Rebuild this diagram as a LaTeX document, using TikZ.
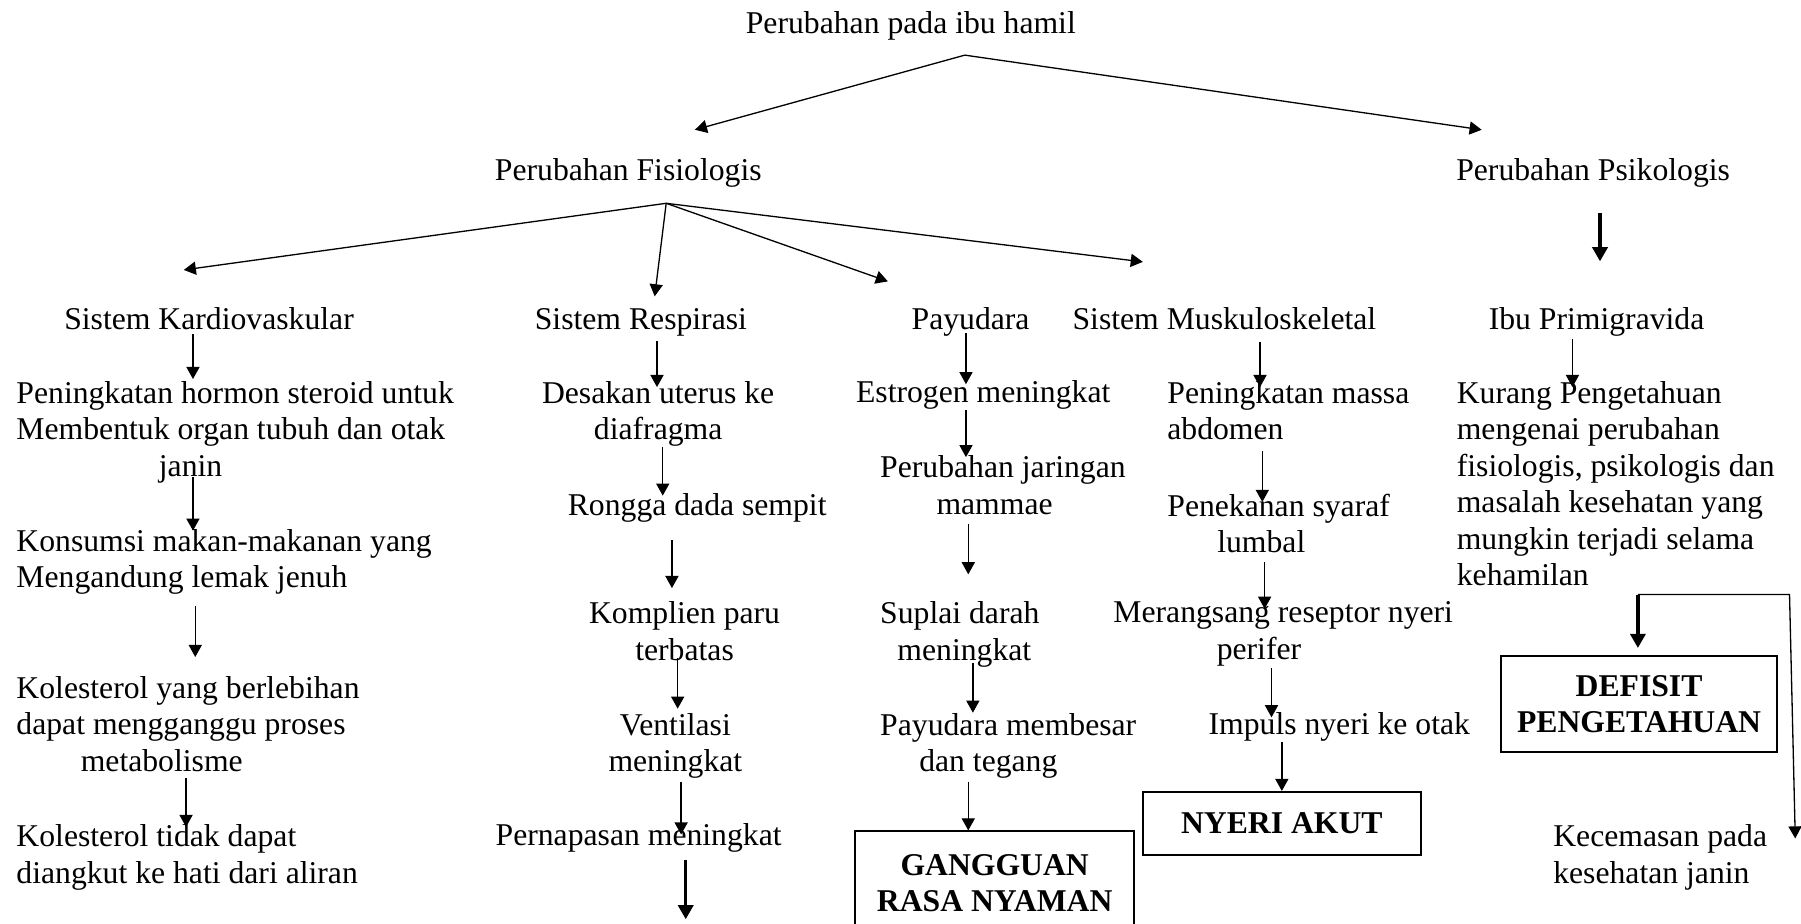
\documentclass[tikz,border=0pt]{standalone}
\usepackage{fontspec}
\setmainfont{Liberation Serif}
\usetikzlibrary{arrows.meta,calc}

\begin{document}
\begin{tikzpicture}[
    x=0.02cm, y=-0.02cm,
    every node/.style={inner sep=0pt, font=\fontsize{15.7pt}{18.1pt}\selectfont},
    lbl/.style={anchor=base},
    arr/.style={-{Triangle[length=6pt,width=6.5pt]}, line width=0.65pt},
    fatarr/.style={-{Triangle[length=7pt,width=7.5pt]}, line width=1.6pt},
    box/.style={draw, line width=1pt, align=center, font=\fontsize{15.7pt}{18.1pt}\selectfont\bfseries},
]
    \useasboundingbox (0,0) rectangle (1568,804);

    \node[lbl] (title) at (793,29.5) {Perubahan pada ibu hamil};
    \node[lbl] (fis) at (547,157.5) {Perubahan Fisiologis};
    \node[lbl] (psi) at (1387,157.5) {Perubahan Psikologis};

    \node[lbl] (kv) at (182,286.5) {Sistem Kardiovaskular};
    \node[lbl] (res) at (558,286.5) {Sistem Respirasi};
    \node[lbl] (pay) at (845,286.5) {Payudara};
    \node[lbl] (mus) at (1066,286.5) {Sistem Muskuloskeletal};
    \node[lbl] (ibu) at (1390,286.5) {Ibu Primigravida};

    % kardiovaskular
    \node[anchor=north west, align=left] (k1) at (14,331.5) {Peningkatan hormon steroid untuk\\Membentuk organ tubuh dan otak\\\hspace*{2.48cm}janin};
    \node[anchor=north west, align=left] (k2) at (14,460.5) {Konsumsi makan-makanan yang\\Mengandung lemak jenuh};
    \node[anchor=north west, align=left] (k3) at (14,588.5) {Kolesterol yang berlebihan\\dapat mengganggu proses\\\hspace*{1.12cm}metabolisme};
    \node[anchor=north west, align=left] (k4) at (14,717.5) {Kolesterol tidak dapat\\diangkut ke hati dari aliran};

    % respirasi
    \node[anchor=north, align=center] (r1) at (573,331.5) {Desakan uterus ke\\diafragma};
    \node[lbl] (r2) at (607,448.5) {Rongga dada sempit};
    \node[anchor=north, align=center] (r3) at (596,523.5) {Komplien paru\\terbatas};
    \node[anchor=north, align=center] (r4) at (588,620.5) {Ventilasi\\meningkat};
    \node[lbl] (r5) at (556,736.5) {Pernapasan meningkat};

    % payudara
    \node[lbl] (p1) at (856,350.5) {Estrogen meningkat};
    \node[anchor=north west, align=left] (p2) at (766,396.5) {Perubahan jaringan\\\hspace*{0.98cm}mammae};
    \node[anchor=north west, align=left] (p3) at (766,523.5) {Suplai darah\\\hspace*{0.3cm}meningkat};
    \node[anchor=north west, align=left] (p4) at (766,620.5) {Payudara membesar\\\hspace*{0.68cm}dan tegang};
    \node[box, anchor=north, minimum width=4.86cm, minimum height=1.8cm] (gg) at (866,723) {GANGGUAN\\RASA NYAMAN};

    % muskuloskeletal
    \node[anchor=north west, align=left] (m1) at (1016,331.5) {Peningkatan massa\\abdomen};
    \node[anchor=north west, align=left] (m2) at (1016,429.5) {Penekanan syaraf\\\hspace*{0.87cm}lumbal};
    \node[anchor=north west, align=left] (m3) at (969,523.5) {Merangsang reseptor nyeri\\\hspace*{1.8cm}perifer};
    \node[lbl] (m4) at (1166,639.5) {Impuls nyeri ke otak};
    \node[box, minimum width=4.84cm, minimum height=1.1cm] (na) at (1116,717) {NYERI AKUT};

    % psikologis
    \node[anchor=north west, align=left] (ku) at (1268,331.5) {Kurang Pengetahuan\\mengenai perubahan\\fisiologis, psikologis dan\\masalah kesehatan yang\\mungkin terjadi selama\\kehamilan};
    \node[box, minimum width=4.82cm, minimum height=1.66cm] (def) at (1427,613) {DEFISIT\\PENGETAHUAN};
    \node[anchor=north west, align=left] (kec) at (1352,717.5) {Kecemasan pada\\kesehatan janin};

    % top split
    \draw[arr] ($(title.base)+(47,18.5)$) -- ($(fis.base)+(58,-44.5)$);
    \draw[arr] ($(title.base)+(47,18.5)$) -- ($(psi.base)+(-97,-44.5)$);

    % fisiologis fan
    \draw[arr] ($(fis.base)+(33,19.5)$) -- ($(kv.base)+(-22,-51.5)$);
    \draw[arr] ($(fis.base)+(33,19.5)$) -- ($(res.base)+(12,-28.5)$);
    \draw[arr] ($(fis.base)+(33,19.5)$) -- ($(pay.base)+(-72,-41.5)$);
    \draw[arr] ($(fis.base)+(33,19.5)$) -- ($(mus.base)+(-71,-58.5)$);

    \draw[arr, shorten <=0.07cm, shorten >=0.03cm] (kv.south -| 168,0) -- (k1.north -| 168,0);
    \draw[arr, shorten <=-0.11cm, shorten >=-0.03cm] (k1.south -| 168,0) -- (k2.north -| 168,0);
    \draw[arr, shorten <=0.19cm, shorten >=0.33cm] (k2.south -| 170,0) -- (k3.north -| 170,0);
    \draw[arr, shorten <=0.11cm, shorten >=-0.05cm] (k3.south -| 162,0) -- (k4.north -| 162,0);

    \draw[arr, shorten <=0.09cm, shorten >=-0.11cm] (res.south -| 572,0) -- (r1.north -| 572,0);
    \draw[arr, shorten >=-0.05cm] (r1.south -| 577,0) -- (r2.north -| 577,0);
    \draw[arr, shorten <=0.31cm, shorten >=0.23cm] (r2.south -| 585,0) -- (r3.north -| 585,0);
    \draw[arr, shorten <=-0.05cm, shorten >=0.07cm] (r3.south -| 590,0) -- (r4.north -| 590,0);
    \draw[arr, shorten <=0.05cm, shorten >=-0.19cm] (r4.south -| 593,0) -- (r5.north -| 593,0);
    \draw[fatarr, shorten <=0.11cm] (r5.south -| 597,0) -- ++(0,57.5);

    \draw[arr, shorten <=-0.05cm, shorten >=-0.07cm] (pay.south -| 841,0) -- (p1.north -| 841,0);
    \draw[arr, shorten >=-0.03cm] (p1.south -| 841,0) -- (p2.north -| 841,0);
    \draw[arr, shorten <=0.15cm, shorten >=0.47cm] (p2.south -| 843,0) -- (p3.north -| 843,0);
    \draw[arr, shorten <=-0.07cm] (p3.south -| 847,0) -- (p4.north -| 847,0);
    \draw[arr, shorten <=0.05cm] (p4.south -| 843,0) -- (gg.north -| 843,0);

    \draw[arr, shorten <=0.21cm, shorten >=-0.11cm] (mus.south -| 1097,0) -- (m1.north -| 1097,0);
    \draw[arr, shorten <=0.19cm, shorten >=-0.15cm] (m1.south -| 1099,0) -- (m2.north -| 1099,0);
    \draw[arr, shorten <=0.15cm, shorten >=-0.13cm] (m2.south -| 1101,0) -- (m3.north -| 1101,0);
    \draw[arr, shorten <=0.03cm, shorten >=-0.09cm] (m3.south -| 1107,0) -- (m4.north -| 1107,0);
    \draw[arr] (m4.south -| 1116,0) -- (na.north -| 1116,0);

    \draw[fatarr, shorten <=0.43cm, shorten >=0.79cm] (psi.south -| 1393,0) -- (ibu.north -| 1393,0);
    \draw[arr, shorten <=0.05cm, shorten >=-0.11cm] (ibu.south -| 1369,0) -- (ku.north -| 1369,0);
    \coordinate (kuOut) at ($(ku.south -| 1426,0)+(0,7)$);
    \draw[fatarr, shorten >=0.13cm] (kuOut) -- (def.north -| 1426,0);
    \draw[arr] (kuOut) -- ++(132,0) -- ($(kec.north west)+(211,12.5)$);%side branch
\end{tikzpicture}
\end{document}
